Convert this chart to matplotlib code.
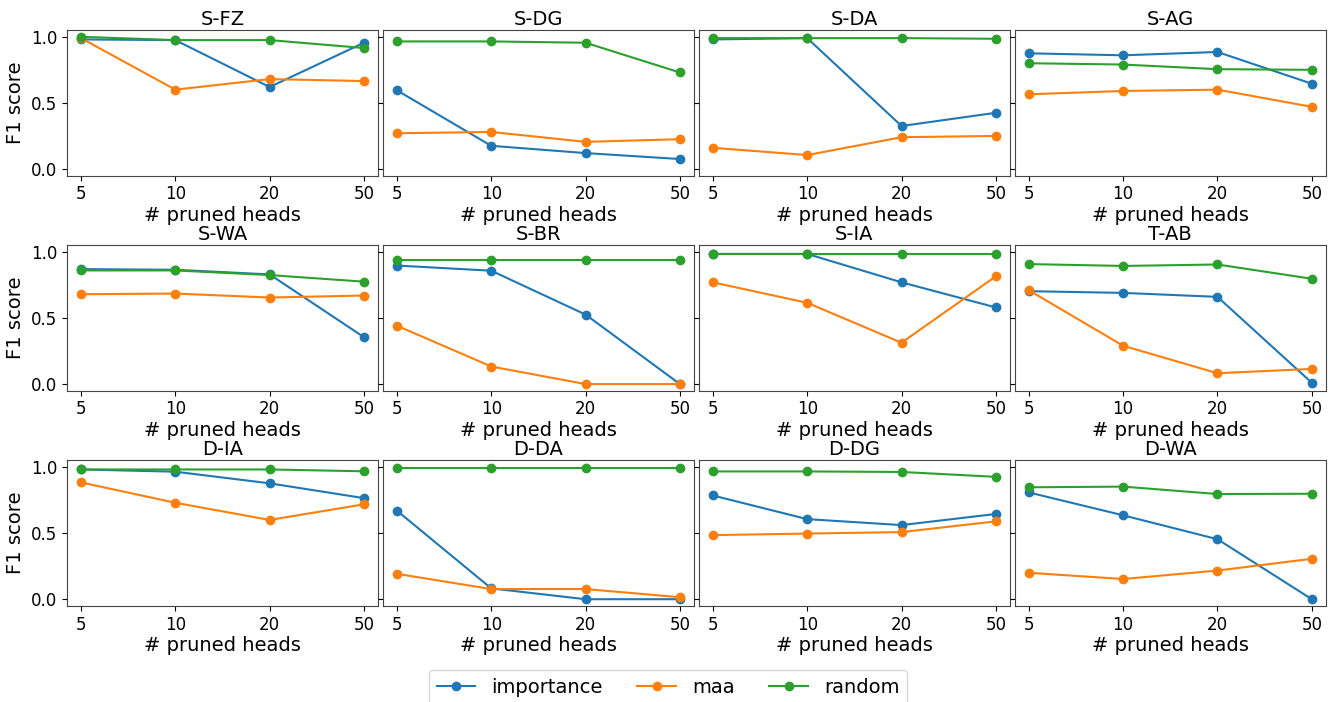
import matplotlib.pyplot as plt
import numpy as np

heads = ['5', '10', '20', '50']
titles = ['S-FZ', 'S-DG', 'S-DA', 'S-AG',
          'S-WA', 'S-BR', 'S-IA', 'T-AB',
          'D-IA', 'D-DA', 'D-DG', 'D-WA']

importance = [
    [0.98, 0.975, 0.62, 0.955],
    [0.595, 0.175, 0.12, 0.075],
    [0.98, 0.99, 0.325, 0.425],
    [0.875, 0.86, 0.885, 0.645],
    [0.87, 0.865, 0.83, 0.355],
    [0.897, 0.858, 0.526, 0.0],
    [0.985, 0.985, 0.77, 0.58],
    [0.703, 0.69, 0.66, 0.01],
    [0.982, 0.965, 0.877, 0.765],
    [0.67, 0.082, 0.0, 0.0],
    [0.785, 0.606, 0.561, 0.645],
    [0.808, 0.635, 0.454, 0.0],
]
maa = [
    [0.99, 0.60, 0.68, 0.665],
    [0.27, 0.28, 0.205, 0.225],
    [0.16, 0.105, 0.24, 0.25],
    [0.565, 0.59, 0.60, 0.47],
    [0.68, 0.685, 0.655, 0.67],
    [0.442, 0.133, 0.0, 0.0],
    [0.77, 0.615, 0.313, 0.816],
    [0.71, 0.29, 0.082, 0.115],
    [0.884, 0.73, 0.60, 0.718],
    [0.192, 0.077, 0.077, 0.015],
    [0.485, 0.497, 0.508, 0.589],
    [0.20, 0.153, 0.217, 0.306],
]
random_ = [
    [1.0, 0.975, 0.975, 0.915],
    [0.965, 0.965, 0.955, 0.73],
    [0.99, 0.99, 0.99, 0.985],
    [0.80, 0.79, 0.755, 0.75],
    [0.86, 0.86, 0.825, 0.775],
    [0.936, 0.936, 0.936, 0.936],
    [0.985, 0.985, 0.985, 0.985],
    [0.908, 0.894, 0.905, 0.797],
    [0.982, 0.982, 0.982, 0.968],
    [0.994, 0.994, 0.994, 0.994],
    [0.967, 0.967, 0.963, 0.926],
    [0.847, 0.852, 0.796, 0.798],
]

fig, axes = plt.subplots(3, 4, figsize=(13.36, 7.02), dpi=100, sharey=True)
fig.subplots_adjust(left=0.05, right=0.9925, top=0.957, bottom=0.137,
                    wspace=0.015, hspace=0.48)

x = np.arange(len(heads))
for i, ax in enumerate(axes.flat):
    ax.plot(x, importance[i], marker='o', color='tab:blue', label='importance')
    ax.plot(x, maa[i], marker='o', color='tab:orange', label='maa')
    ax.plot(x, random_[i], marker='o', color='tab:green', label='random')
    ax.set_xticks(x)
    ax.set_xticklabels(heads, fontsize=12)
    ax.tick_params(axis='y', labelsize=12)
    for s in ax.spines.values():
        s.set_edgecolor('#444444')
    ax.set_title(titles[i], fontsize=14, pad=4)
    ax.set_xlabel('# pruned heads', fontsize=14, labelpad=2)
    if i % 4 == 0:
        ax.set_ylabel('F1 score', fontsize=14)

handles, labels = axes[0, 0].get_legend_handles_labels()
fig.legend(handles, labels, loc='lower center', ncol=3, fontsize=14,
           bbox_to_anchor=(0.5, -0.018), handlelength=2, columnspacing=1.8)

plt.savefig('out.png')
